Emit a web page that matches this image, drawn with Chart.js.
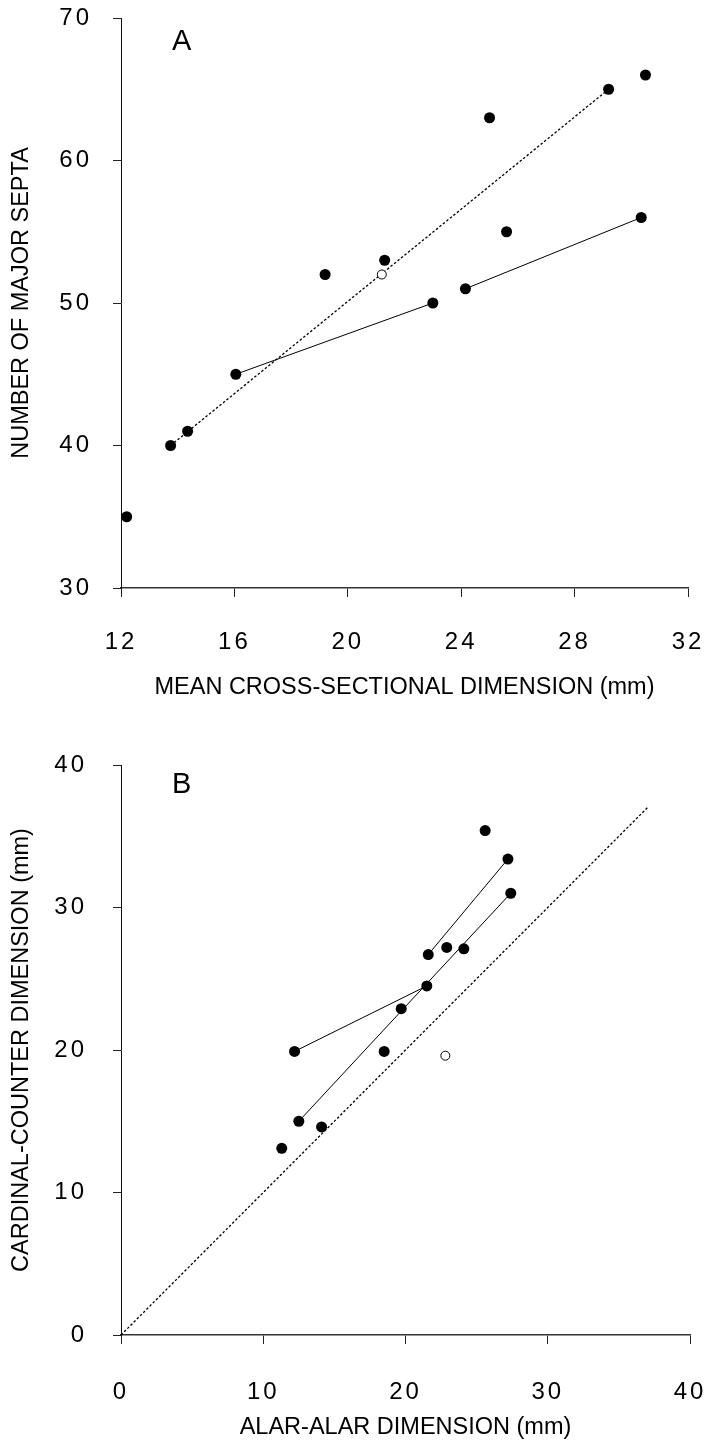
<!DOCTYPE html>
<html>
<head>
<meta charset="utf-8">
<script src="https://cdn.jsdelivr.net/npm/chart.js@4.4.1/dist/chart.umd.min.js"></script>
<style>
  html, body { margin: 0; padding: 0; background: #fff; }
  .box { position: absolute; left: 0; width: 705px; }
  #boxA { top: 0; height: 720px; }
  #boxB { top: 720px; height: 721px; }
</style>
</head>
<body>
<div class="box" id="boxA"><canvas id="chartA"></canvas></div>
<div class="box" id="boxB"><canvas id="chartB"></canvas></div>
<script>
// ---- panel A: septa count vs mean cross-sectional dimension ----
const septaTicksX = [12, 16, 20, 24, 28, 32];
const septaTicksY = [30, 40, 50, 60, 70];
const septaSize  = [12.2, 13.75, 14.35, 16.05, 19.2, 21.3, 23.0, 24.15, 25.0, 25.6, 29.2, 30.35, 30.5];
const septaCount = [35,   40,    41,    45,    52,   53,   50,   51,    63,   55,   65,   56,    66];
const septaOpenSize  = [21.2];
const septaOpenCount = [52];
const septaDotSize  = [13.75, 29.2];   // dotted line
const septaDotCount = [40,    65];
const septaLine1Size  = [16.05, 23.0]; // solid segments
const septaLine1Count = [45,    50];
const septaLine2Size  = [24.15, 30.35];
const septaLine2Count = [51,    56];

// ---- panel B: cardinal-counter vs alar-alar ----
const ccTicksX = [0, 10, 20, 30, 40];
const ccTicksY = [0, 10, 20, 30, 40];
const alarDim = [11.3, 12.2, 12.5, 14.1, 18.5, 19.7, 21.5, 21.6, 22.9, 24.1, 25.6, 27.2, 27.4];
const ccDim   = [13.1, 19.9, 15.0, 14.6, 19.9, 22.9, 24.5, 26.7, 27.2, 27.1, 35.4, 33.4, 31.0];
const alarOpen = [22.8];
const ccOpen   = [19.6];
const equalX = [0, 37];               // dotted 1:1 line
const equalY = [0, 37];
const ccLine1X = [12.2, 21.5];
const ccLine1Y = [19.9, 24.5];
const ccLine2X = [12.5, 27.4];
const ccLine2Y = [15.0, 31.0];
const ccLine3X = [21.6, 27.2];
const ccLine3Y = [26.7, 33.4];

const FONT = "'Liberation Sans', Arial, sans-serif";

function pts(xs, ys) {
  return xs.map((x, i) => ({ x: x, y: ys[i] }));
}

function filled(xs, ys) {
  return { data: pts(xs, ys), pointRadius: 5.5, pointBackgroundColor: '#000',
           pointBorderColor: '#000', pointBorderWidth: 0, pointHoverRadius: 5.5 };
}
function hollow(xs, ys) {
  return { data: pts(xs, ys), pointRadius: 4.5, pointBackgroundColor: '#fff',
           pointBorderColor: '#000', pointBorderWidth: 1 };
}
function line(xs, ys, dashed) {
  return { data: pts(xs, ys), showLine: true, pointRadius: 0, borderColor: '#000',
           borderWidth: dashed ? 1.3 : 1, borderDash: dashed ? [2.5, 2] : [] };
}

// tick labels are letter-spaced in the original; titles are not
const spacing = {
  id: 'spacing',
  afterDatasetsDraw(chart) { chart.ctx.letterSpacing = '3px'; },
  afterDraw(chart, args, opts) {
    const ctx = chart.ctx;
    ctx.letterSpacing = '0px';
    ctx.save();
    ctx.font = '29px ' + FONT;
    ctx.fillStyle = '#000';
    ctx.textBaseline = 'alphabetic';
    ctx.fillText(opts.letter, chart.chartArea.left + 51, chart.chartArea.top + opts.letterDy);
    ctx.restore();
  }
};

function makeChart(id, c) {
  const tickFont = { family: FONT, size: 24 };
  const titleFont = { family: FONT, size: 23.5 };
  return new Chart(document.getElementById(id), {
    type: 'scatter',
    data: { datasets: c.datasets },
    plugins: [spacing],
    options: {
      responsive: true,
      maintainAspectRatio: false,
      animation: false,
      events: [],
      layout: { padding: { left: 0, top: c.top, right: c.right, bottom: 0 } },
      plugins: { legend: { display: false }, tooltip: { enabled: false },
                 spacing: { letter: c.letter, letterDy: c.letterDy } },
      elements: { line: { tension: 0 } },
      datasets: { scatter: { clip: false } },
      scales: {
        x: {
          type: 'linear', min: c.ticksX[0], max: c.ticksX[c.ticksX.length - 1],
          afterBuildTicks: s => { s.ticks = c.ticksX.map(v => ({ value: v })); },
          afterFit: s => { s.height = c.xHeight; s.paddingLeft = 0; s.paddingRight = 0; },
          grid: { display: true, drawOnChartArea: false, drawTicks: true, tickLength: 9,
                  color: '#222', lineWidth: 1 },
          border: { display: true, color: '#333', width: 1.5 },
          ticks: { z: 1, color: '#000', font: tickFont, padding: c.xPad, maxRotation: 0 },
          title: { display: true, text: c.titleX, color: '#000', font: titleFont,
                   padding: { top: 0, bottom: c.titleXPad } }
        },
        y: {
          type: 'linear', min: c.ticksY[0], max: c.ticksY[c.ticksY.length - 1],
          afterBuildTicks: s => { s.ticks = c.ticksY.map(v => ({ value: v })); },
          afterFit: s => { s.width = 121; s.paddingTop = 0; s.paddingBottom = 0; },
          grid: { display: true, drawOnChartArea: false, drawTicks: true, tickLength: 8,
                  color: '#222', lineWidth: 1 },
          border: { display: true, color: '#111', width: 1 },
          ticks: { z: 1, color: '#000', font: tickFont, padding: c.yPad },
          title: { display: true, text: c.titleY, color: '#000', font: titleFont,
                   padding: { top: 7, bottom: 0 } }
        }
      }
    }
  });
}

makeChart('chartA', {
  ticksX: septaTicksX, ticksY: septaTicksY,
  top: 18, right: 17, xHeight: 132, xPad: 31, yPad: 21, titleXPad: 18,
  letter: 'A', letterDy: 32,
  titleX: 'MEAN CROSS-SECTIONAL DIMENSION (mm)',
  titleY: 'NUMBER OF MAJOR SEPTA',
  datasets: [
    filled(septaSize, septaCount),
    hollow(septaOpenSize, septaOpenCount),
    line(septaDotSize, septaDotCount, true),
    line(septaLine1Size, septaLine1Count, false),
    line(septaLine2Size, septaLine2Count, false)
  ]
});

makeChart('chartB', {
  ticksX: ccTicksX, ticksY: ccTicksY,
  top: 45, right: 15, xHeight: 106, xPad: 34, yPad: 26, titleXPad: -1,
  letter: 'B', letterDy: 28,
  titleX: 'ALAR-ALAR DIMENSION (mm)',
  titleY: 'CARDINAL-COUNTER DIMENSION (mm)',
  datasets: [
    filled(alarDim, ccDim),
    hollow(alarOpen, ccOpen),
    line(equalX, equalY, true),
    line(ccLine1X, ccLine1Y, false),
    line(ccLine2X, ccLine2Y, false),
    line(ccLine3X, ccLine3Y, false)
  ]
});
</script>
</body>
</html>
